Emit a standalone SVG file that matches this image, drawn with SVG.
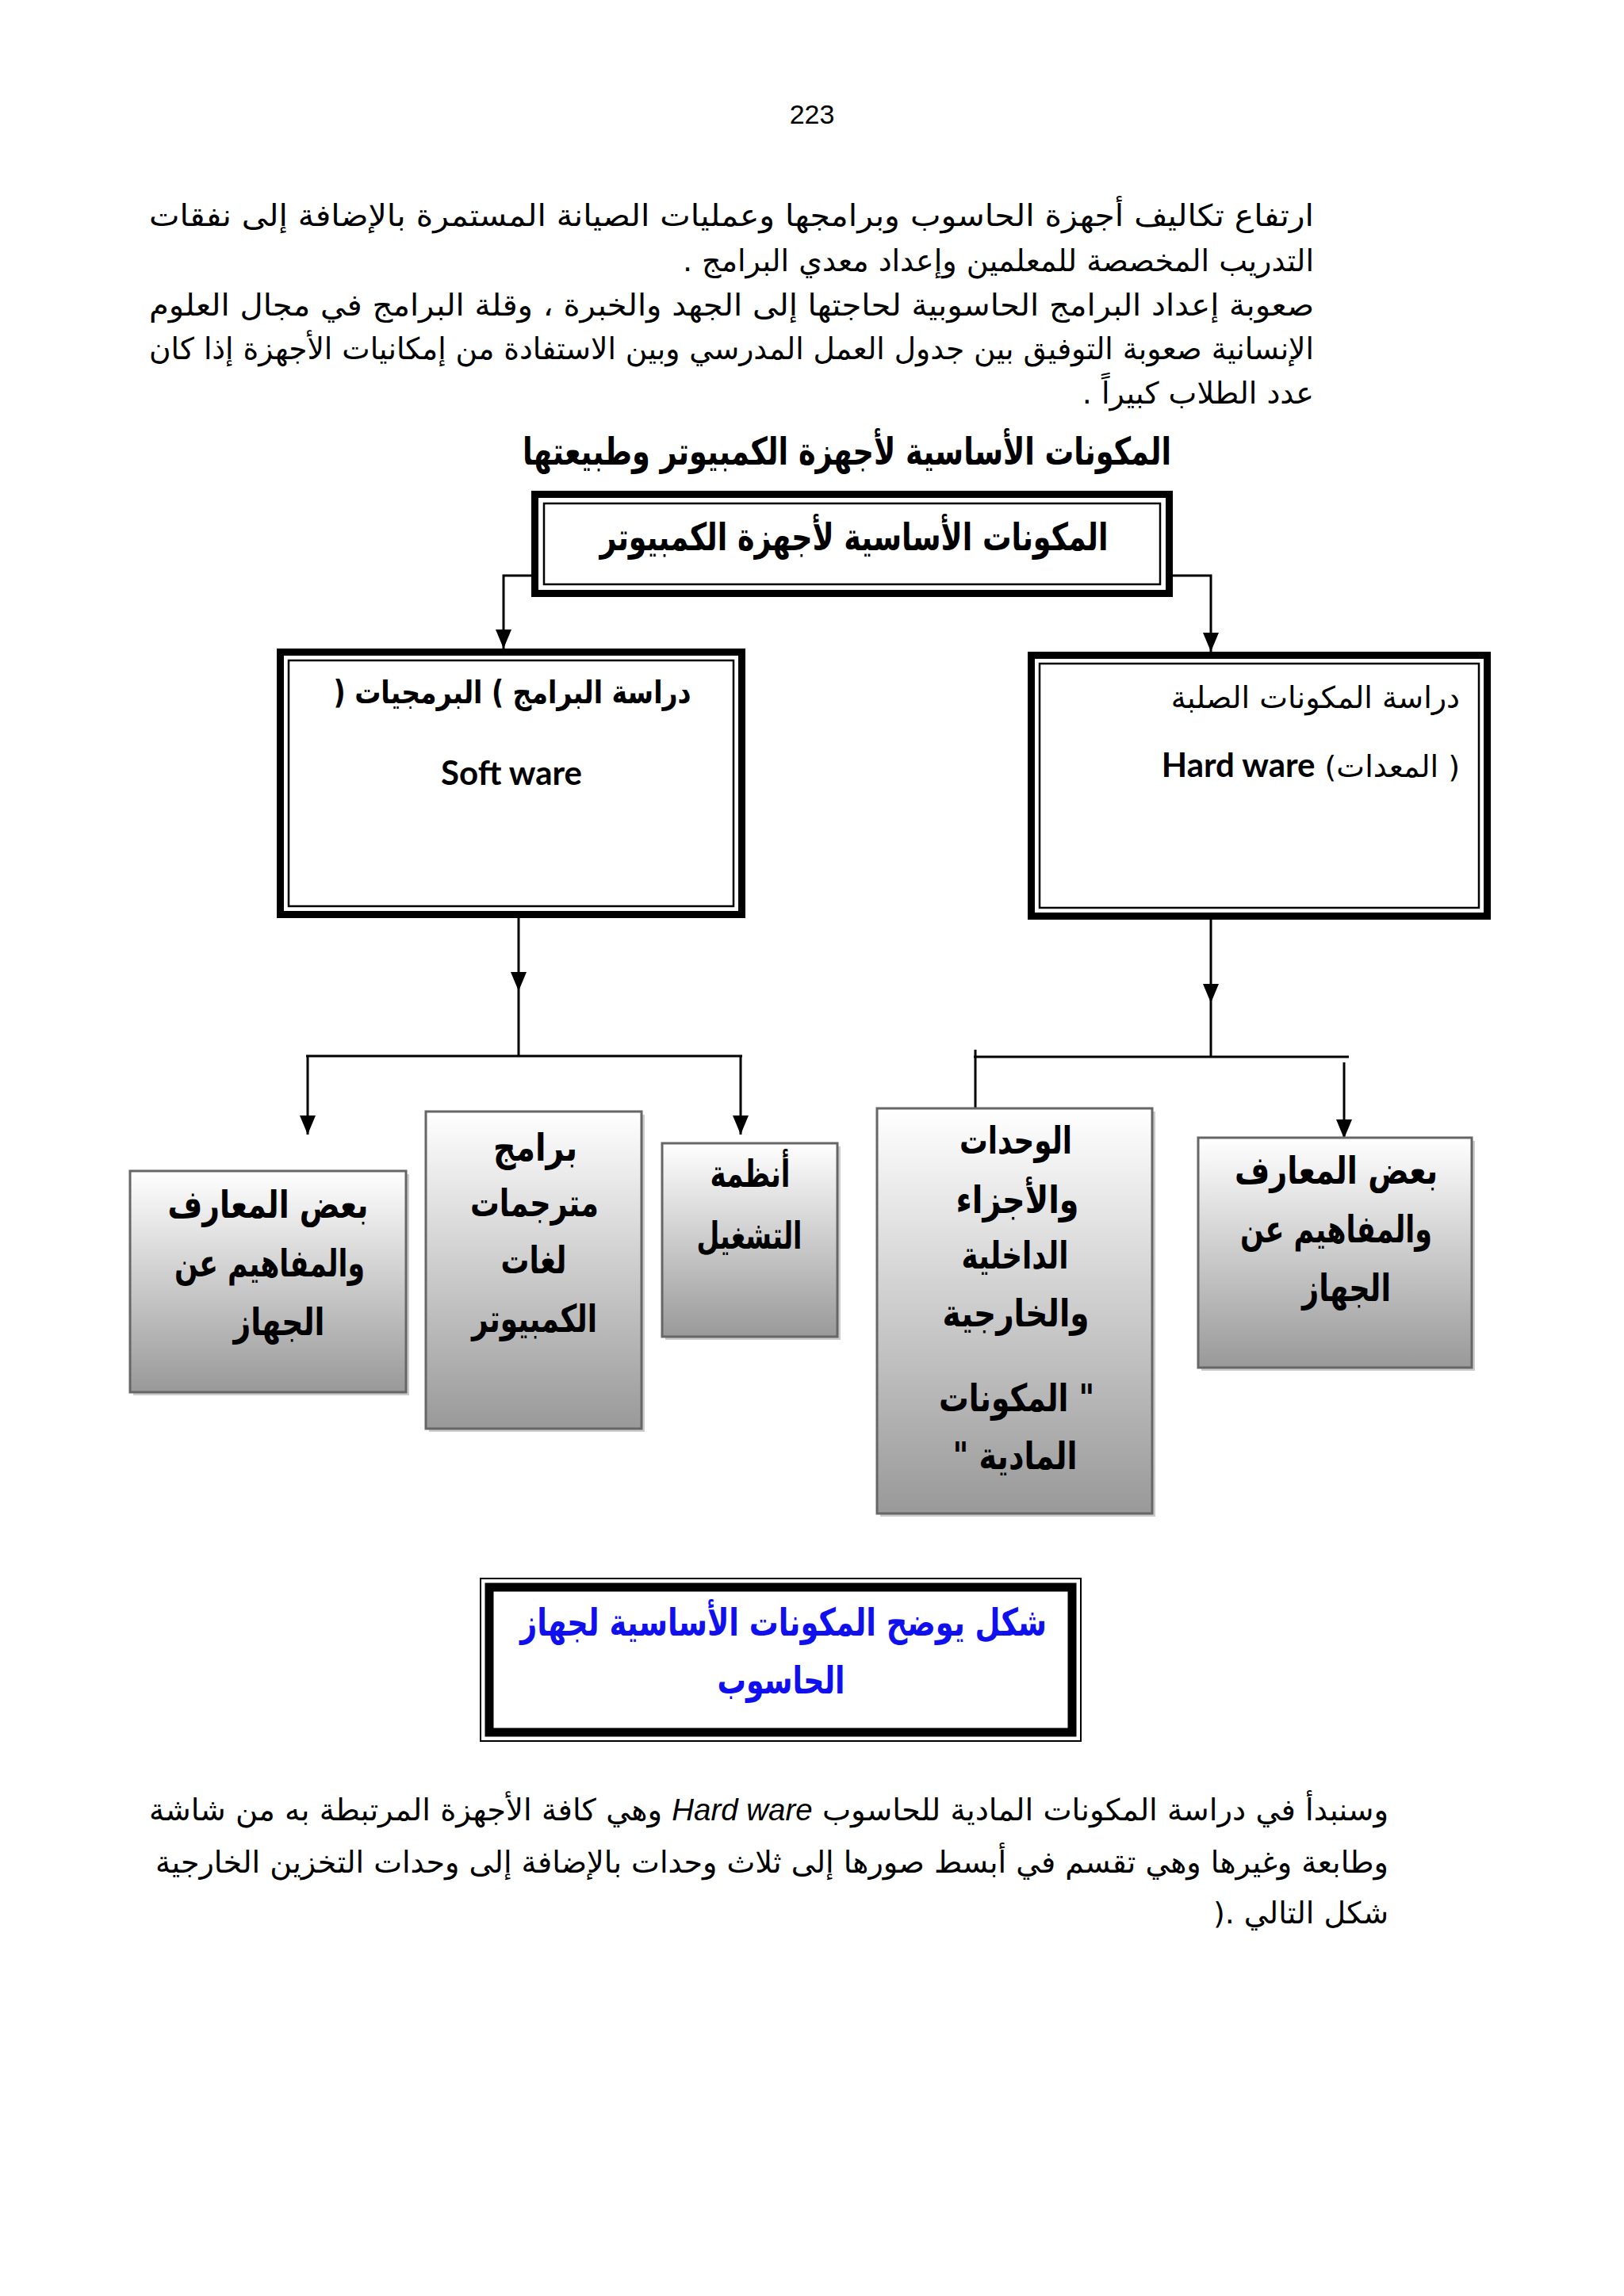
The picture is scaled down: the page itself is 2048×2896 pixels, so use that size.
<svg xmlns="http://www.w3.org/2000/svg" width="2048" height="2896" viewBox="0 0 2048 2896">
<defs>
<linearGradient id="g" x1="0" y1="0" x2="0" y2="1">
<stop offset="0" stop-color="#ffffff"/>
<stop offset="1" stop-color="#999999"/>
</linearGradient>
<marker id="ar" markerUnits="userSpaceOnUse" markerWidth="26" markerHeight="20" refX="24" refY="10" orient="auto" viewBox="0 0 26 20">
<path d="M0,0 L24,10 L0,20 Z" fill="#000"/>
</marker>
</defs>
<style>
.ar{font-family:"DejaVu Sans","Liberation Sans",sans-serif;}
.para{font-size:38px;fill:#000;}
.bold{font-weight:bold;}
.box{font-size:48px;font-weight:bold;fill:#000;}
.gb{fill:url(#g);stroke:#666;stroke-width:3;}
.sh{fill:#cccccc;}
.ln{stroke:#000;stroke-width:3;fill:none;}
.en{font-family:Lato,"Open Sans",sans-serif;font-weight:bold;}
</style>
<rect width="2048" height="2896" fill="#fff"/>

<text x="1024" y="156" font-family="Liberation Sans, sans-serif" font-size="34" text-anchor="middle">223</text>

<g id="intro" class="ar para">
<text x="1657" y="285" direction="rtl" text-anchor="start" textLength="1469" lengthAdjust="spacingAndGlyphs">ارتفاع تكاليف أجهزة الحاسوب وبرامجها وعمليات الصيانة المستمرة بالإضافة إلى نفقات</text>
<text x="1657" y="342" direction="rtl" text-anchor="start">التدريب المخصصة للمعلمين وإعداد معدي البرامج .</text>
<text x="1657" y="398" direction="rtl" text-anchor="start" textLength="1469" lengthAdjust="spacingAndGlyphs">صعوبة إعداد البرامج الحاسوبية لحاجتها إلى الجهد والخبرة ، وقلة البرامج في مجال العلوم</text>
<text x="1657" y="453" direction="rtl" text-anchor="start" textLength="1469" lengthAdjust="spacingAndGlyphs">الإنسانية صعوبة التوفيق بين جدول العمل المدرسي وبين الاستفادة من إمكانيات الأجهزة إذا كان</text>
<text x="1657" y="509" direction="rtl" text-anchor="start">عدد الطلاب كبيراً .</text>
</g>

<text class="ar bold" x="1068" y="586" font-size="48" text-anchor="middle" direction="rtl" textLength="818" lengthAdjust="spacingAndGlyphs">المكونات الأساسية لأجهزة الكمبيوتر وطبيعتها</text>

<g id="connectors">
<polyline class="ln" points="670,726 635,726 635,818" marker-end="url(#ar)"/>
<polyline class="ln" points="1479,726 1527,726 1527,822" marker-end="url(#ar)"/>
<line class="ln" x1="654" y1="1158" x2="654" y2="1250" marker-end="url(#ar)"/>
<line class="ln" x1="654" y1="1250" x2="654" y2="1332"/>
<line class="ln" x1="386" y1="1332" x2="936" y2="1332"/>
<line class="ln" x1="388" y1="1332" x2="388" y2="1431" marker-end="url(#ar)"/>
<line class="ln" x1="934" y1="1332" x2="934" y2="1431" marker-end="url(#ar)"/>
<line class="ln" x1="1527" y1="1160" x2="1527" y2="1265" marker-end="url(#ar)"/>
<line class="ln" x1="1527" y1="1265" x2="1527" y2="1333"/>
<line class="ln" x1="1228" y1="1333" x2="1701" y2="1333"/>
<line class="ln" x1="1230" y1="1324" x2="1230" y2="1436" marker-end="url(#ar)"/>
<line class="ln" x1="1695" y1="1340" x2="1695" y2="1436" marker-end="url(#ar)"/>
</g>

<g id="root">
<rect x="674.5" y="623.5" width="800" height="125" fill="#fff" stroke="#000" stroke-width="9"/>
<rect x="686" y="635" width="777" height="102" fill="none" stroke="#000" stroke-width="2.5"/>
<text class="ar box" x="1077" y="694" text-anchor="middle" direction="rtl" textLength="641" lengthAdjust="spacingAndGlyphs">المكونات الأساسية لأجهزة الكمبيوتر</text>
</g>

<g id="software">
<rect x="353.5" y="822.5" width="582" height="331" fill="#fff" stroke="#000" stroke-width="9"/>
<rect x="364" y="833" width="561" height="310" fill="none" stroke="#000" stroke-width="2.5"/>
<text class="ar bold" x="646" y="887" font-size="40" text-anchor="middle" direction="rtl" textLength="451" lengthAdjust="spacingAndGlyphs">دراسة البرامج ) البرمجيات (</text>
<text class="en" x="645" y="990" font-size="42" text-anchor="middle">Soft ware</text>
</g>

<g id="hardware">
<rect x="1300.5" y="826.5" width="575" height="329" fill="#fff" stroke="#000" stroke-width="9"/>
<rect x="1311" y="837" width="554" height="308" fill="none" stroke="#000" stroke-width="2.5"/>
<text class="ar" x="1841" y="893" font-size="38" direction="rtl" text-anchor="start">دراسة المكونات الصلبة</text>
<text class="ar" x="1841" y="980" font-size="38" direction="rtl" text-anchor="start">( المعدات)  <tspan class="en" font-size="42">Hard ware</tspan></text>
</g>

<g id="sw-concepts">
<rect class="sh" x="168" y="1481" width="348" height="279"/>
<rect class="gb" x="164" y="1477" width="348" height="279"/>
<text class="ar box" x="338" y="1536" text-anchor="middle" direction="rtl" textLength="253" lengthAdjust="spacingAndGlyphs">بعض المعارف</text>
<text class="ar box" x="340" y="1610" text-anchor="middle" direction="rtl" textLength="240" lengthAdjust="spacingAndGlyphs">والمفاهيم عن</text>
<text class="ar box" x="352" y="1684" text-anchor="middle" direction="rtl" textLength="115" lengthAdjust="spacingAndGlyphs">الجهاز</text>
</g>

<g id="translators">
<rect class="sh" x="541" y="1406" width="272" height="400"/>
<rect class="gb" x="537" y="1402" width="272" height="400"/>
<text class="ar box" x="675" y="1464" text-anchor="middle" direction="rtl" textLength="106" lengthAdjust="spacingAndGlyphs">برامج</text>
<text class="ar box" x="674" y="1534" text-anchor="middle" direction="rtl" textLength="162" lengthAdjust="spacingAndGlyphs">مترجمات</text>
<text class="ar box" x="673" y="1606" text-anchor="middle" direction="rtl" textLength="83" lengthAdjust="spacingAndGlyphs">لغات</text>
<text class="ar box" x="674" y="1680" text-anchor="middle" direction="rtl" textLength="158" lengthAdjust="spacingAndGlyphs">الكمبيوتر</text>
</g>

<g id="os">
<rect class="sh" x="839" y="1446" width="221" height="244"/>
<rect class="gb" x="835" y="1442" width="221" height="244"/>
<text class="ar box" x="946" y="1497" text-anchor="middle" direction="rtl" textLength="101" lengthAdjust="spacingAndGlyphs">أنظمة</text>
<text class="ar box" x="945" y="1575" text-anchor="middle" direction="rtl" textLength="133" lengthAdjust="spacingAndGlyphs">التشغيل</text>
</g>

<g id="units">
<rect class="sh" x="1110" y="1402" width="347" height="511"/>
<rect class="gb" x="1106" y="1398" width="347" height="511"/>
<text class="ar box" x="1281" y="1455" text-anchor="middle" direction="rtl" textLength="142" lengthAdjust="spacingAndGlyphs">الوحدات</text>
<text class="ar box" x="1283" y="1530" text-anchor="middle" direction="rtl" textLength="155" lengthAdjust="spacingAndGlyphs">والأجزاء</text>
<text class="ar box" x="1280" y="1600" text-anchor="middle" direction="rtl" textLength="135" lengthAdjust="spacingAndGlyphs">الداخلية</text>
<text class="ar box" x="1281" y="1673" text-anchor="middle" direction="rtl" textLength="185" lengthAdjust="spacingAndGlyphs">والخارجية</text>
<text class="ar box" x="1282" y="1780" text-anchor="middle" direction="rtl" textLength="196" lengthAdjust="spacingAndGlyphs">" المكونات</text>
<text class="ar box" x="1280" y="1853" text-anchor="middle" direction="rtl" textLength="157" lengthAdjust="spacingAndGlyphs">المادية "</text>
</g>

<g id="hw-concepts">
<rect class="sh" x="1515" y="1439" width="345" height="290"/>
<rect class="gb" x="1511" y="1435" width="345" height="290"/>
<text class="ar box" x="1685" y="1493" text-anchor="middle" direction="rtl" textLength="256" lengthAdjust="spacingAndGlyphs">بعض المعارف</text>
<text class="ar box" x="1685" y="1567" text-anchor="middle" direction="rtl" textLength="242" lengthAdjust="spacingAndGlyphs">والمفاهيم عن</text>
<text class="ar box" x="1698" y="1641" text-anchor="middle" direction="rtl" textLength="112" lengthAdjust="spacingAndGlyphs">الجهاز</text>
</g>

<g id="caption">
<rect x="606" y="1991" width="757" height="205" fill="#fff" stroke="#000" stroke-width="2"/>
<rect x="617" y="2002" width="735" height="183" fill="none" stroke="#000" stroke-width="11"/>
<text class="ar bold" x="988" y="2063" font-size="48" fill="#1010ee" text-anchor="middle" direction="rtl" textLength="664" lengthAdjust="spacingAndGlyphs">شكل يوضح المكونات الأساسية لجهاز</text>
<text class="ar bold" x="985" y="2136" font-size="48" fill="#1010ee" text-anchor="middle" direction="rtl" textLength="161" lengthAdjust="spacingAndGlyphs">الحاسوب</text>
</g>

<g id="outro" class="ar para">
<text x="1751" y="2296" direction="rtl" text-anchor="start" textLength="1563" lengthAdjust="spacingAndGlyphs">وسنبدأ في دراسة المكونات المادية للحاسوب  <tspan font-family="Liberation Sans, sans-serif" font-style="italic">Hard ware</tspan>   وهي كافة الأجهزة المرتبطة به من شاشة</text>
<text x="1751" y="2362" direction="rtl" text-anchor="start" textLength="1555" lengthAdjust="spacingAndGlyphs">وطابعة وغيرها وهي تقسم في أبسط صورها إلى ثلاث وحدات بالإضافة إلى وحدات التخزين الخارجية</text>
<text x="1751" y="2426" direction="rtl" text-anchor="start">شكل التالي .(</text>
</g>
</svg>
